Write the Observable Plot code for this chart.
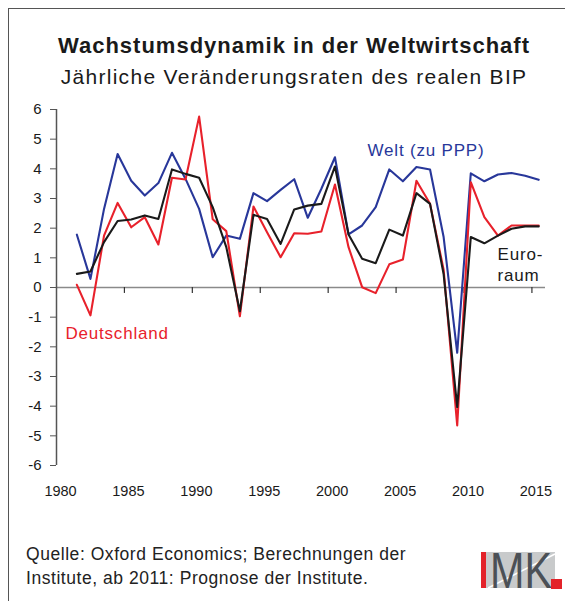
<!DOCTYPE html>
<html><head><meta charset="utf-8">
<script src="https://cdn.jsdelivr.net/npm/d3@7"></script>
<script src="https://cdn.jsdelivr.net/npm/@observablehq/plot@0.6"></script>
<style>
html,body{margin:0;padding:0;}
body{width:565px;height:601px;position:relative;overflow:hidden;background:#fff;font-family:"Liberation Sans",Arial,sans-serif;color:#1a1a1a;}
#frameTop{position:absolute;left:9px;top:8px;width:560px;height:0;border-top:1.5px solid #555;}
#frameLeft{position:absolute;left:8px;top:8px;width:0;height:600px;border-left:1.5px solid #555;}
#title{position:absolute;left:0;width:588px;top:35px;text-align:center;font-size:22px;line-height:22px;font-weight:bold;letter-spacing:1px;}
#subtitle{position:absolute;left:0;width:588px;top:66px;text-align:center;font-size:21px;line-height:22px;letter-spacing:1.3px;}
#chart{position:absolute;left:0;top:99px;}
#caption{position:absolute;left:26px;top:542px;font-size:17.5px;line-height:24px;color:#222;letter-spacing:0.55px;}
#logo{position:absolute;left:468px;top:540px;}
</style></head><body>
<div id="frameTop"></div><div id="frameLeft"></div>
<div id="title">Wachstumsdynamik in der Weltwirtschaft</div>
<div id="subtitle">Jährliche Veränderungsraten des realen BIP</div>
<div id="chart"></div>
<div id="caption">Quelle: Oxford Economics; Berechnungen der<br>Institute, ab 2011: Prognose der Institute.</div>
<div id="logo">
<svg width="97" height="61" viewBox="0 0 97 61">
<rect x="13" y="12" width="74" height="36" fill="#c8cacb"/>
<line x1="20" y1="48" x2="87" y2="14" stroke="#fff" stroke-width="1.5"/>
<rect x="13" y="12" width="5" height="36" fill="#e3232a"/>
<text x="22" y="48" font-size="50" textLength="62" lengthAdjust="spacingAndGlyphs" fill="#4b5056" font-family="Liberation Sans, Arial">MK</text>
<rect x="83" y="39" width="11" height="10" fill="#e3232a"/>
</svg>
</div>
<script>
const years = [1981,1982,1983,1984,1985,1986,1987,1988,1989,1990,1991,1992,1993,1994,1995,1996,1997,1998,1999,2000,2001,2002,2003,2004,2005,2006,2007,2008,2009,2010,2011,2012,2013,2014,2015];
const welt = [1.78,0.29,2.65,4.5,3.6,3.1,3.52,4.54,3.66,2.65,1.02,1.75,1.64,3.18,2.91,3.29,3.65,2.35,3.33,4.39,1.79,2.09,2.71,3.98,3.58,4.06,3.98,1.7,-2.2,3.85,3.58,3.81,3.86,3.77,3.63];
const deutschland = [0.09,-0.94,1.75,2.85,2.03,2.37,1.45,3.7,3.64,5.76,2.3,1.9,-0.97,2.73,1.86,1.02,1.83,1.81,1.89,3.47,1.36,0.01,-0.19,0.78,0.94,3.6,2.82,0.6,-4.65,3.55,2.37,1.75,2.09,2.09,2.09];
const euroraum = [0.46,0.54,1.53,2.24,2.29,2.43,2.31,3.98,3.83,3.7,2.71,1.36,-0.8,2.45,2.31,1.47,2.63,2.76,2.82,4.08,1.79,0.97,0.82,1.95,1.75,3.18,2.82,0.45,-4.03,1.7,1.49,1.75,1.98,2.06,2.06];
const xTicks = [1980,1985,1990,1995,2000,2005,2010,2015];
const yTicks = [-6,-5,-4,-3,-2,-1,0,1,2,3,4,5,6];
const seriesNames = ["Welt (zu PPP)","Deutschland","Euroraum"];
const seriesColors = ["#28379a","#e8212b","#1a1a1a"];
const labels = [
  {text:"Welt (zu PPP)", x:2002.9, y:4.62, c:"#28379a"},
  {text:"Deutschland", x:1980.66, y:-1.55, c:"#e8212b"},
  {text:"Euro-", x:2012.47, y:1.11, c:"#1a1a1a"},
  {text:"raum", x:2012.47, y:0.40, c:"#1a1a1a"}
];
const mk = (arr) => years.map((yr,i)=>({year:yr, v:arr[i]}));
const plot = Plot.plot({
  width:565, height:411,
  marginTop:10, marginBottom:45, marginLeft:56, marginRight:20,
  x:{domain:[1980,2016]},
  y:{domain:[-6,6]},
  style:{background:"transparent", fontFamily:"Liberation Sans, Arial, sans-serif", fontSize:"15px", color:"#1a1a1a"},
  marks:[
    Plot.ruleY([0],{stroke:"#8a8a8a", strokeWidth:1.5}),
    Plot.ruleX(xTicks.slice(1),{x:d=>d, y1:0, y2:-0.2, stroke:"#333", strokeWidth:1.2}),
    Plot.ruleX([1980],{y1:-6, y2:6, stroke:"#555", strokeWidth:1.5}),
    Plot.axisY({ticks:yTicks, tickSize:6, tickPadding:9, stroke:"#555", label:null, tickFormat:d=>String(d), fontSize:15}),
    Plot.axisX({ticks:xTicks, tickSize:0, tickPadding:20, dx:4, label:null, tickFormat:d=>String(d), fontSize:14.5}),
    Plot.line(mk(welt),{x:d=>d.year+0.5, y:"v", stroke:seriesColors[0], strokeWidth:2.1}),
    Plot.line(mk(deutschland),{x:d=>d.year+0.5, y:"v", stroke:seriesColors[1], strokeWidth:2.1}),
    Plot.line(mk(euroraum),{x:d=>d.year+0.5, y:"v", stroke:seriesColors[2], strokeWidth:2.1}),
    Plot.text(labels,{x:"x", y:"y", text:"text", fill:"c", textAnchor:"start", fontSize:17})
  ]
});
d3.select(plot).selectAll("g[aria-label='text'] text").style("letter-spacing","0.8px");
document.getElementById("chart").appendChild(plot);
</script>
</body></html>
